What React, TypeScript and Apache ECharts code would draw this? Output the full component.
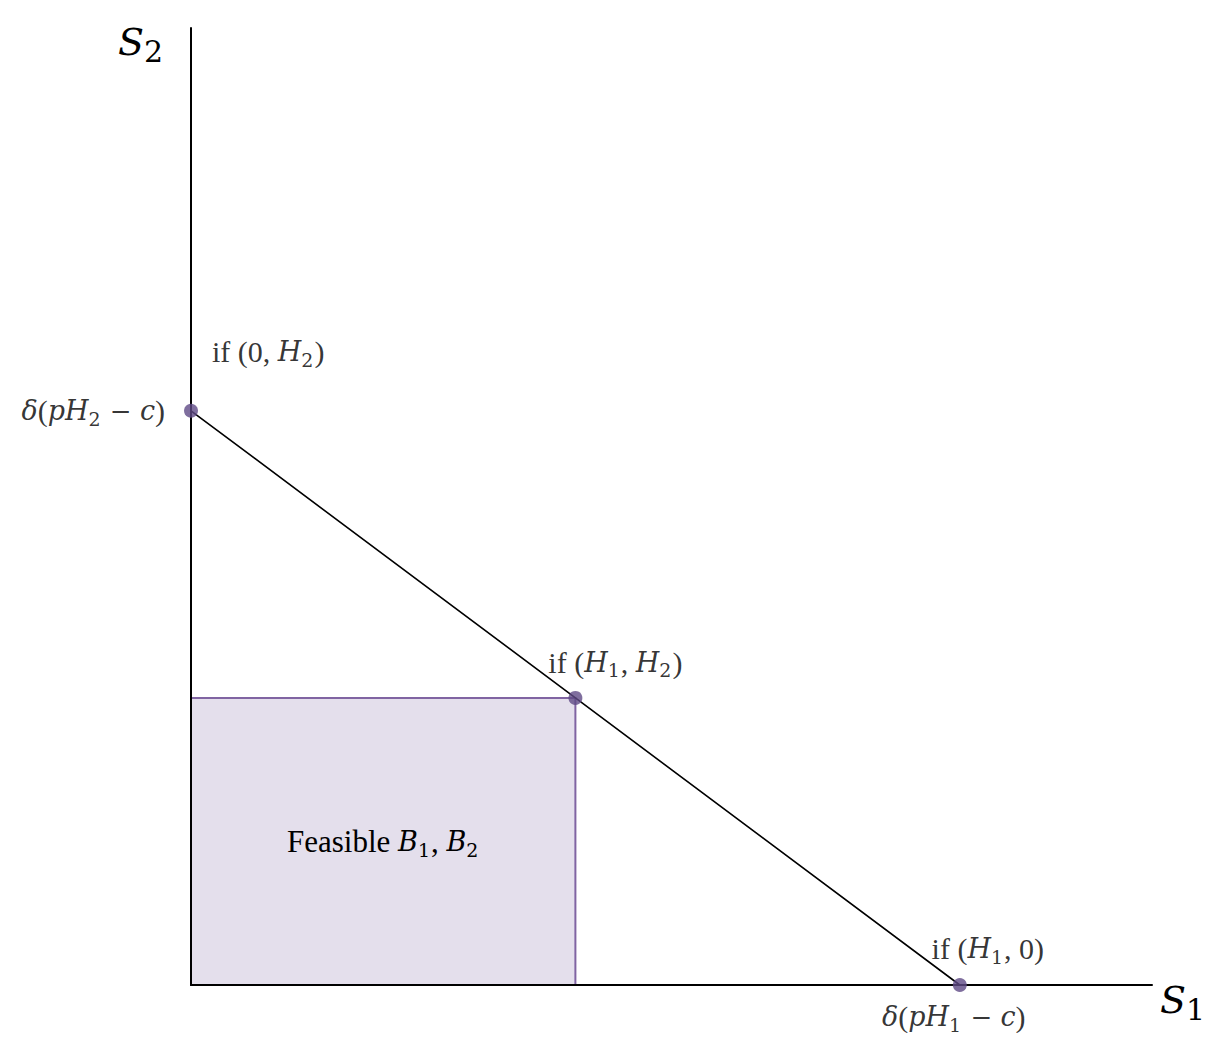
import React, { useEffect, useRef } from "react";
import * as echarts from "echarts";

// Data (model units)
const axisMax = 100;
const pointsX = [0, 40, 80];
const pointsY = [60, 30, 0];
const feasibleCorner = [40, 30];

// Text labels (rich text)
const pointLabels = [
  "{n|if (0, }{i|H}{s|2}{n|)}",
  "{n|if (}{i|H}{s|1}{n|, }{i|H}{s|2}{n|)}",
  "{n|if (}{i|H}{s|1}{n|, 0)}",
];
const interceptLabelY = "{i|δ}{n|(}{i|pH}{s|2}{m| − }{i|c}{n|)}";
const interceptLabelX = "{i|δ}{n|(}{i|pH}{s|1}{m| − }{i|c}{n|)}";
const feasibleLabel = "{f|Feasible }{fi|B}{fs|1}{f|, }{fi|B}{fs|2}";
const axisNameX = "{a|S}{as|1}";
const axisNameY = "{a|S}{as|2}";

const SERIF = "DejaVu Serif";
const SERIF2 = "Liberation Serif";
const rich = {
  n: { fontSize: 30, fontFamily: SERIF2, color: "#000" },
  m: { fontSize: 26, fontFamily: SERIF, color: "#000" },
  i: { fontSize: 27, fontFamily: SERIF, fontStyle: "italic", color: "#000" },
  s: { fontSize: 19, fontFamily: SERIF, color: "#000", padding: [16, 1, 0, 0] },
  f: { fontSize: 31, fontFamily: SERIF2, color: "#000" },
  fi: { fontSize: 27, fontFamily: SERIF, fontStyle: "italic", color: "#000" },
  fs: { fontSize: 19, fontFamily: SERIF, color: "#000", padding: [18, 1, 0, 0] },
  a: { fontSize: 38, fontFamily: SERIF, fontStyle: "italic", color: "#000" },
  as: { fontSize: 30, fontFamily: SERIF, color: "#000", padding: [18, 0, 0, 0] },
};

export default function App() {
  const ref = useRef<HTMLDivElement>(null);
  useEffect(() => {
    if (!ref.current) return;
    const chart = echarts.init(ref.current, null, { renderer: "svg" });
    const labelPlacement = [
      { position: "right", distance: 5, offset: [9, -59] },
      { position: "top", distance: 5, offset: [40, -6] },
      { position: "top", distance: 5, offset: [28, -7] },
    ];
    const scatterData = pointsX.map((x, k) => ({
      value: [x, pointsY[k]],
      label: {
        show: true,
        formatter: pointLabels[k],
        rich,
        color: "#000",
        ...labelPlacement[k],
      },
    }));
    chart.setOption({
      animation: false,
      grid: { left: 191, top: 28, width: 961, height: 957 },
      xAxis: {
        type: "value",
        min: 0,
        max: axisMax,
        z: 10,
        axisLine: { show: true, onZero: false, lineStyle: { color: "#000", width: 2 } },
        axisTick: { show: false },
        axisLabel: { show: false },
        splitLine: { show: false },
        name: axisNameX,
        nameLocation: "end",
        nameGap: 8,
        nameTextStyle: { rich, padding: [30, 0, 0, 0] },
      },
      yAxis: {
        type: "value",
        min: 0,
        max: axisMax,
        z: 10,
        axisLine: { show: true, onZero: false, lineStyle: { color: "#000", width: 2 } },
        axisTick: { show: false },
        axisLabel: { show: false },
        splitLine: { show: false },
        name: axisNameY,
        nameLocation: "end",
        nameGap: -14,
        nameTextStyle: { rich, align: "right", verticalAlign: "middle", padding: [0, 28, 0, 0] },
      },
      series: [
        {
          type: "line",
          data: pointsX.map((x, k) => [x, pointsY[k]]),
          symbol: "none",
          lineStyle: { color: "#000", width: 1.6 },
          z: 3,
          markArea: {
            silent: true,
            itemStyle: { color: "#e4dfec", borderColor: "#8064a2", borderWidth: 2 },
            label: {
              show: true,
              position: "inside",
              formatter: feasibleLabel,
              color: "#000",
              rich,
            },
            data: [[{ coord: [0, 0] }, { coord: feasibleCorner }]],
          },
        },
        {
          type: "scatter",
          data: scatterData,
          symbol: "circle",
          symbolSize: 14,
          itemStyle: { color: "#5f4a86" },
          z: 12,
        },
        {
          type: "scatter",
          symbolSize: 0,
          symbol: "circle",
          itemStyle: { color: "transparent" },
          silent: true,
          clip: false,
          data: [
            {
              value: [pointsX[0], pointsY[0]],
              label: { show: true, formatter: interceptLabelY, rich, color: "#000", position: "left", distance: 26 },
            },
            {
              value: [pointsX[2], pointsY[2]],
              label: { show: true, formatter: interceptLabelX, rich, color: "#000", position: "bottom", distance: 14, offset: [-6, 0] },
            },
          ],
          z: 12,
        },
      ],
    });
    return () => chart.dispose();
  }, []);
  return (
    <div
      ref={ref}
      style={{ position: "absolute", left: 0, top: 0, width: 1217, height: 1037, background: "#fff" }}
    />
  );
}
